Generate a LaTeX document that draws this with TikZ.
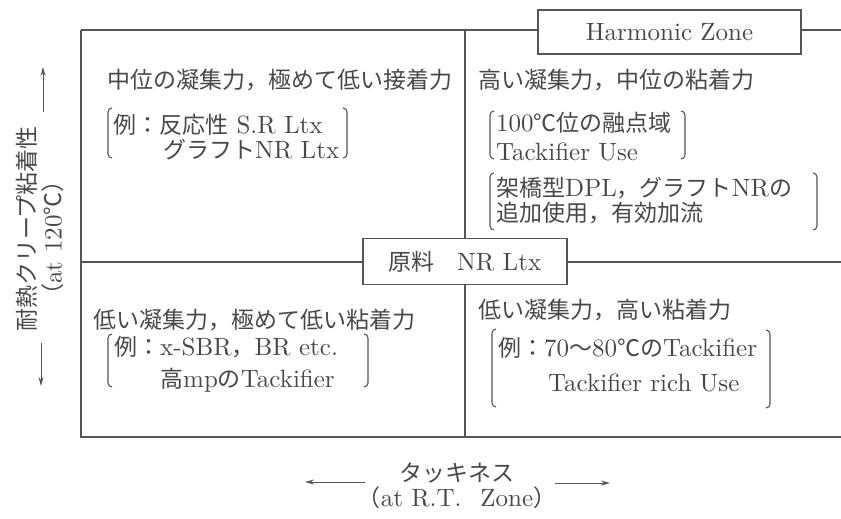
\documentclass[tikz,border=0pt]{standalone}
\usepackage{fontspec}
\setmainfont{lmroman10-regular.otf}
\newfontfamily\jp{Noto Sans CJK JP}[Scale=0.92]
\usetikzlibrary{arrows.meta}
\definecolor{ink}{HTML}{484848}
\definecolor{frame}{HTML}{555555}
\begin{document}
\begin{tikzpicture}[x=1pt,y=-1pt,
  txt/.style={anchor=west,inner sep=0pt,text=ink,font=\fontsize{25}{29}\selectfont},
  frm/.style={draw=frame,line width=1.2pt},
  brk/.style={draw=frame,line width=1.1pt,rounded corners=4pt},
  lbl/.style={draw=frame,line width=1.2pt,fill=white,text=ink,inner sep=0pt,font=\fontsize{25}{29}\selectfont},
  axarr/.style={draw=frame,line width=1pt,-{Stealth[length=9pt,width=5pt]}}]
\useasboundingbox (0,0) rectangle (841,519);
% frame
\draw[frm] (81,30) -- (841,30);
\draw[frm] (81,30) -- (81,437) -- (841,437);
\draw[frm] (81,262) -- (841,262);
\draw[frm] (465,30) -- (465,437);
% label boxes
\node[lbl,minimum width=263pt,minimum height=44pt] (hz) at (669.5,32) {Harmonic Zone};
\node[lbl,minimum width=204pt,minimum height=46pt] (raw) at (465,261.5) {{\jp 原料}\hspace{0.9em}NR Ltx};
% top-left
\node[txt] (tl1) at (107,80) {\jp 中位の凝集力，極めて低い接着力};
\node[txt] (tl2) at (113,125) {{\jp 例：反応性} S.R Ltx};
\node[txt] (tl3) at (163,150) {{\jp グラフト}NR Ltx};
\draw[brk] (112,108) -- (108,108) -- (108,158) -- (112,158);
\draw[brk] (343,108) -- (347,108) -- (347,158) -- (343,158);
% top-right
\node[txt] (tr1) at (478,80) {\jp 高い凝集力，中位の粘着力};
\node[txt] (tr2) at (496,123) {100{\jp ℃位の融点域}};
\node[txt] (tr3) at (496,152) {Tackifier Use};
\draw[brk] (494,111) -- (490,111) -- (490,159) -- (494,159);
\draw[brk] (681,111) -- (685,111) -- (685,159) -- (681,159);
\node[txt] (tr4) at (496,188) {{\jp 架橋型}DPL{\jp ，グラフト}NR{\jp の}};
\node[txt] (tr5) at (496,213) {\jp 追加使用，有効加流};
\draw[brk] (494,173) -- (490,173) -- (490,230) -- (494,230);
\draw[brk] (813,173) -- (817,173) -- (817,230) -- (813,230);
% bottom-left
\node[txt] (bl1) at (93,320) {\jp 低い凝集力，極めて低い粘着力};
\node[txt] (bl2) at (114,347) {{\jp 例：}x-SBR{\jp ，}BR etc.};
\node[txt] (bl3) at (160,380) {{\jp 高}mp{\jp の}Tackifier};
\draw[brk] (112,334) -- (108,334) -- (108,387) -- (112,387);
\draw[brk] (364,334) -- (368,334) -- (368,387) -- (364,387);
% bottom-right
\node[txt] (br1) at (478,310) {\jp 低い凝集力，高い粘着力};
\node[txt] (br2) at (498,348) {{\jp 例：}70{\jp 〜}80{\jp ℃の}Tackifier};
\node[txt] (br3) at (548,383) {Tackifier rich Use};
\draw[brk] (496,329) -- (492,329) -- (492,407) -- (496,407);
\draw[brk] (766,330) -- (770,330) -- (770,408) -- (766,408);
% vertical axis
\node[txt,anchor=center,rotate=90] (yl) at (27,229) {\jp 耐熱クリープ粘着性};
\node[txt,anchor=center,rotate=90] (yl2) at (53,238) {{\jp （}at 120{\jp ℃）}};
\coordinate (ua0) at (43,112);
\coordinate (ua1) at (43,67);
\coordinate (da0) at (41,343);
\coordinate (da1) at (41,386);
\draw[axarr] (ua0) -- (ua1);
\draw[axarr] (da0) -- (da1);
% horizontal axis
\node[txt,anchor=center] (xl) at (457,473) {\jp タッキネス};
\node[txt,anchor=center] (xl2) at (457,498) {{\jp （}at R.T.\hspace{0.75em}Zone{\jp ）}};
\coordinate (la0) at (365,482);
\coordinate (la1) at (305,482);
\coordinate (ra0) at (555,483);
\coordinate (ra1) at (610,483);
\draw[axarr] (la0) -- (la1);
\draw[axarr] (ra0) -- (ra1);
\end{tikzpicture}
\end{document}
